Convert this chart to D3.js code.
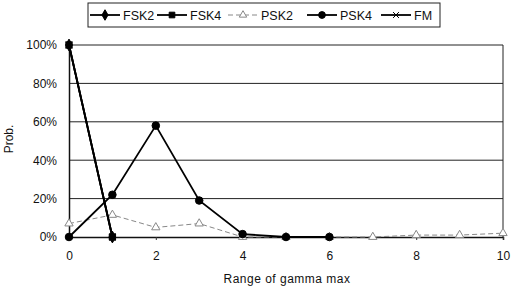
<!DOCTYPE html>
<html>
<head>
<meta charset="utf-8">
<script src="https://cdn.jsdelivr.net/npm/d3@7"></script>
<style>
  body { margin: 0; background: #fff; }
  text { font-family: "Liberation Sans", Arial, sans-serif; fill: #111; }
</style>
</head>
<body>
<div id="chart"></div>
<script>
// ---- data (x = range of gamma max, y = prob in %) ----
var xValues = [0, 1, 2, 3, 4, 5, 6, 7, 8, 9, 10];
var seriesNames = ["FSK2", "FSK4", "PSK2", "PSK4", "FM"];
var fsk2 = [100, 0];
var fsk4 = [100, 0];
var psk2 = [7, 11.5, 5, 7, 0, 0, 0, 0, 1, 1, 2];
var psk4 = [0, 22, 58, 19, 1.5, 0, 0];
var fm = [100, 0];
var yTicks = [0, 20, 40, 60, 80, 100];
var xTicks = [0, 2, 4, 6, 8, 10];

var svgWidth = 512, svgHeight = 289;
var margin = { top: 45, right: 7, bottom: 52, left: 69 };
var chartWidth = svgWidth - margin.left - margin.right;
var chartHeight = svgHeight - margin.top - margin.bottom;

var svg = d3.select("#chart").append("svg")
  .attr("width", svgWidth)
  .attr("height", svgHeight);

var g = svg.append("g")
  .attr("transform", `translate(${margin.left}, ${margin.top})`);

var x = d3.scaleLinear().domain([0, 10]).range([0, chartWidth - 2]);
var y = d3.scaleLinear().domain([0, 100]).range([chartHeight, 0]);

// grid lines
g.selectAll(".grid").data(yTicks.slice(1)).enter().append("line")
  .attr("x1", 0).attr("x2", x(10))
  .attr("y1", d => y(d)).attr("y2", d => y(d))
  .attr("stroke", "#222").attr("stroke-width", 1);

// right frame
g.append("line")
  .attr("x1", x(10)).attr("x2", x(10))
  .attr("y1", y(100)).attr("y2", y(0))
  .attr("stroke", "#222");

// axes
var yAxis = d3.axisLeft(y).tickValues(yTicks).tickFormat(d => d + "%").tickSize(0).tickPadding(12);
var yg = g.append("g").call(yAxis);
yg.select(".domain").attr("stroke", "#111").attr("stroke-width", 1.5);
yg.selectAll("text").attr("font-size", 12).attr("fill", "#111");

var xAxis = d3.axisBottom(x).tickValues(xTicks).tickSize(3).tickPadding(11);
var xg = g.append("g").attr("transform", `translate(0, ${chartHeight})`).call(xAxis);
xg.select(".domain").attr("stroke", "#111").attr("stroke-width", 1.5);
xg.selectAll("line").attr("stroke", "#333");
xg.selectAll("text").attr("font-size", 12).attr("fill", "#111");

// axis titles
svg.append("text")
  .attr("x", margin.left + chartWidth / 2).attr("y", 283)
  .attr("text-anchor", "middle").attr("font-size", 12)
  .attr("letter-spacing", 0.5)
  .text("Range of gamma max");

svg.append("text")
  .attr("transform", "translate(13, 139) rotate(-90)")
  .attr("text-anchor", "middle").attr("font-size", 12)
  .text("Prob.");

// series styling
var styles = {
  FSK2: { color: "#000", width: 1.8, dash: null, marker: d3.symbolDiamond, size: 40, fill: "#000" },
  FSK4: { color: "#000", width: 1.8, dash: null, marker: d3.symbolSquare, size: 40, fill: "#000" },
  PSK2: { color: "#888", width: 1, dash: "5,3", marker: d3.symbolTriangle, size: 30, fill: "#fff" },
  PSK4: { color: "#000", width: 1.8, dash: null, marker: d3.symbolCircle, size: 45, fill: "#000" },
  FM:   { color: "#000", width: 1.8, dash: null, marker: d3.symbolX, size: 30, fill: "#000" }
};
var seriesData = { FSK2: fsk2, FSK4: fsk4, PSK2: psk2, PSK4: psk4, FM: fm };

var line = d3.line().x((d, i) => x(xValues[i])).y(d => y(d));

["PSK2", "PSK4", "FM", "FSK4", "FSK2"].forEach(function(name) {
  var st = styles[name];
  var vals = seriesData[name];
  g.append("path").datum(vals)
    .attr("d", line)
    .attr("fill", "none")
    .attr("stroke", st.color)
    .attr("stroke-width", st.width)
    .attr("stroke-dasharray", st.dash);
  g.selectAll(".m" + name).data(vals).enter().append("path")
    .attr("transform", (d, i) => `translate(${x(xValues[i])}, ${y(d)})`)
    .attr("d", d3.symbol().type(st.marker).size(st.size))
    .attr("fill", st.fill)
    .attr("stroke", st.color)
    .attr("stroke-width", 1);
});

// legend
var legend = svg.append("g");
legend.append("rect")
  .attr("x", 88).attr("y", 3).attr("width", 352).attr("height", 24)
  .attr("fill", "#fff").attr("stroke", "#222").attr("stroke-width", 1);

var legendX = [90, 157, 228, 307, 381];
seriesNames.forEach(function(name, i) {
  var st = styles[name];
  var lx = legendX[i];
  legend.append("line")
    .attr("x1", lx).attr("x2", lx + 30).attr("y1", 15).attr("y2", 15)
    .attr("stroke", st.color).attr("stroke-width", st.width)
    .attr("stroke-dasharray", st.dash);
  legend.append("path")
    .attr("transform", `translate(${lx + 15}, 15)`)
    .attr("d", d3.symbol().type(st.marker).size(st.size * 0.8))
    .attr("fill", st.fill)
    .attr("stroke", st.color);
  legend.append("text")
    .attr("x", lx + 33).attr("y", 19.5)
    .attr("font-size", 12.5)
    .text(name);
});
</script>
</body>
</html>
